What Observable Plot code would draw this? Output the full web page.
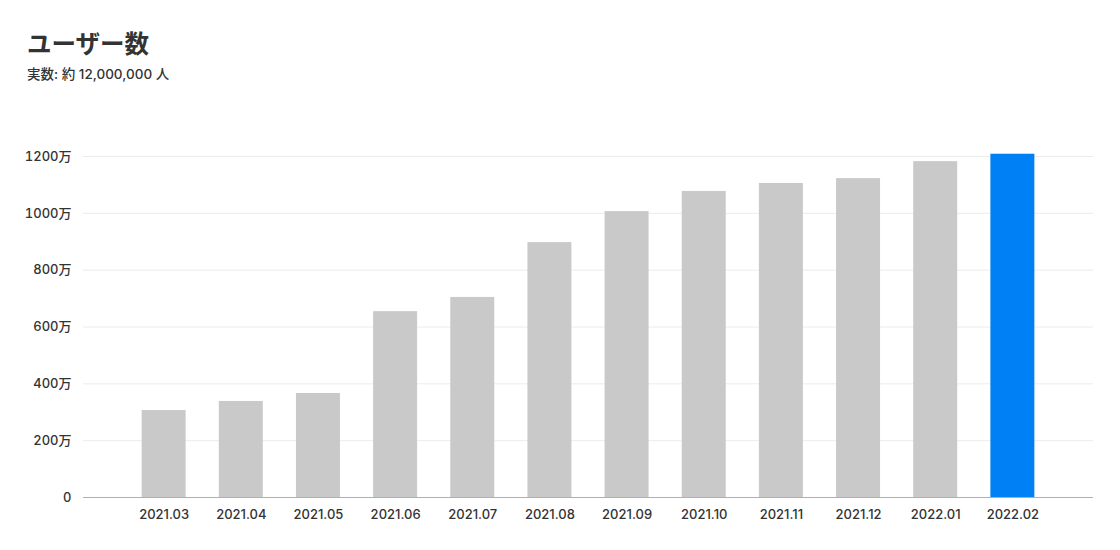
<!DOCTYPE html>
<html>
<head>
<meta charset="utf-8">
<script src="https://cdn.jsdelivr.net/npm/d3@7"></script>
<script src="https://cdn.jsdelivr.net/npm/@observablehq/plot@0.6"></script>
<style>
  html, body { margin: 0; padding: 0; background: #fff; }
  body { width: 1120px; height: 550px; position: relative; overflow: hidden;
         font-family: Inter, "Noto Sans CJK JP", sans-serif; color: #333; }
  #title { position: absolute; left: 27px; top: 28px; font-size: 24.5px; font-weight: 700; line-height: 32px; color: #333; }
  #subtitle { position: absolute; left: 27px; top: 65px; font-size: 13.5px; font-weight: 500; line-height: 18px; color: #333; }
  #chart { position: absolute; left: 0; top: 100px; }
</style>
</head>
<body>
<div id="title">ユーザー数</div>
<div id="subtitle">実数: 約 12,000,000 人</div>
<div id="chart"></div>
<script>
const months = ["2021.03","2021.04","2021.05","2021.06","2021.07","2021.08","2021.09","2021.10","2021.11","2021.12","2022.01","2022.02"];
const users = [306, 338, 366, 654, 704, 897, 1006, 1077, 1105, 1122, 1182, 1208];
const highlight = "2022.02";
const yTicks = [0, 200, 400, 600, 800, 1000, 1200];

const data = months.map((m, i) => ({month: m, value: users[i]}));

const chart = Plot.plot({
  width: 1120,
  height: 450,
  marginLeft: 83,
  marginRight: 27,
  marginTop: 56,
  marginBottom: 53,
  style: {fontFamily: 'Inter, "Noto Sans CJK JP", sans-serif', fontSize: "13px", fontWeight: 500, color: "#333", background: "#fff"},
  x: {domain: months, paddingInner: 0.43, paddingOuter: 0.76, round: false, label: null},
  y: {domain: [0, 1200], label: null},
  marks: [
    Plot.ruleY(yTicks.filter(d => d > 0), {stroke: "#ececec", strokeWidth: 1}),
    Plot.barY(data, {x: "month", y: "value", fill: d => d.month === highlight ? "#0080f5" : "#c9c9c9"}),
    Plot.ruleY([0], {stroke: "#b0b0b0", strokeWidth: 1}),
    Plot.axisY({ticks: yTicks, tickSize: 0, tickPadding: 12, tickFormat: d => d === 0 ? "0" : d + "万", label: null, fill: "#333"}),
    Plot.axisX({tickSize: 0, tickPadding: 12, label: null, fill: "#333"})
  ]
});
document.getElementById("chart").appendChild(chart);
</script>
</body>
</html>
